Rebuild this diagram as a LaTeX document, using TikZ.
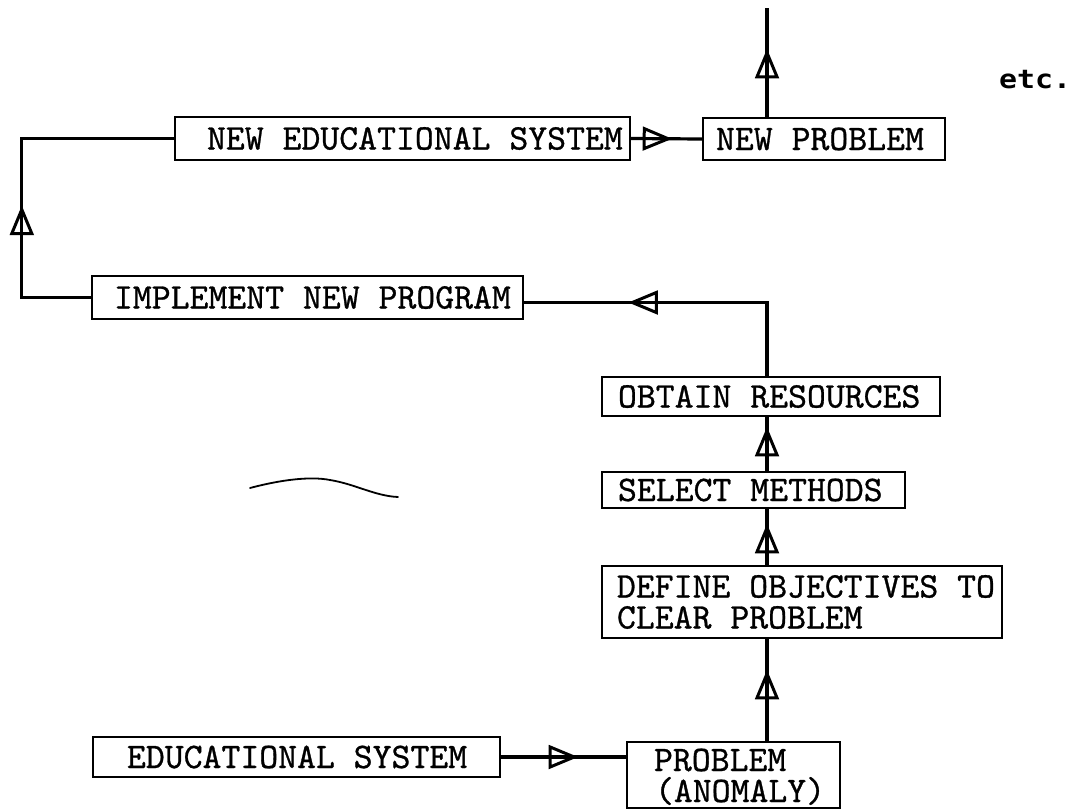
\documentclass[tikz,border=0pt]{standalone}
\usepackage{fontspec}
\newfontfamily\etcfont[FakeStretch=1.15]{DejaVu Sans Mono}
\newfontfamily\typeface[FakeBold=0.8]{lmmono10-regular.otf}
\newcommand\boxfont{\typeface\fontsize{36}{31}\selectfont}
% one full typewriter cell of blank space
\newcommand\ws{\hspace*{0.525em}}
\usetikzlibrary{decorations.markings}

\begin{document}
\begin{tikzpicture}[x=1pt,y=-1pt,
  box/.style={draw, line width=2.4pt, inner xsep=0pt, inner ysep=0pt,
    font=\boxfont, align=left},
  link/.style={line width=3.2pt},
  midtri/.style={postaction={decorate}, decoration={markings,
    mark=at position #1 with {\draw[line width=3pt, line join=miter]
      (-12pt,-10pt) -- (12pt,0pt) -- (-12pt,10pt) -- cycle;}}}
]
\useasboundingbox (0,0) rectangle (1075,811);

% boxes of the cycle
\node[box, text width=455pt, minimum height=43pt] (nes) at (402.5,138.5)
  {\hspace*{32pt}NEW\ws EDUCATIONAL\ws SYSTEM};
\node[box, text width=242pt, minimum height=42pt] (np) at (824,139)
  {\hspace*{13pt}NEW\ws PROBLEM};
\node[box, text width=431pt, minimum height=43pt] (impl) at (307.5,297.5)
  {\hspace*{22pt}IMPLEMENT\ws NEW\ws PROGRAM};
\node[box, text width=338pt, minimum height=39pt] (ob) at (771,396.5)
  {\hspace*{16pt}OBTAIN\ws RESOURCES};
\node[box, text width=303pt, minimum height=36pt] (sm) at (753.5,490)
  {\hspace*{16pt}SELECT\ws METHODS};
\node[box, text width=400pt, minimum height=72pt] (def) at (802,602)
  {\hspace*{15pt}DEFINE\ws OBJECTIVES\ws TO\\\hspace*{15pt}CLEAR\ws PROBLEM};
\node[box, text width=213pt, minimum height=66pt, text height=29pt, text depth=37pt]
  (pr) at (733.5,775)
  {\hspace*{27pt}PROBLEM\\\hspace*{28pt}(ANOMALY)};
\node[box, text width=407pt, minimum height=40pt] (es) at (296.5,757)
  {\hspace*{34pt}EDUCATIONAL\ws SYSTEM};

\node[font=\etcfont\bfseries\fontsize{26}{26}\selectfont, anchor=base west, inner sep=0pt]
  (etc) at (999,88) {etc.};

% connectors
\coordinate (top) at (767,8);
\draw[link, midtri=52pt] (np.north -| top) -- (top);
\draw[link, midtri=25pt] (nes.east) -- (np.west);
\draw[link, midtri=145pt] (impl.west) -- ++(-69,0) |- (nes.west);
\draw[link, midtri=196pt] (ob.north -| top) |- ([yshift=-5pt]impl.east);
\draw[link, midtri=28pt] (sm.north -| top) -- (ob.south -| top);
\draw[link, midtri=25pt] (def.north -| top) -- (sm.south -| top);
\draw[link, midtri=55pt] (pr.north -| top) -- (def.south -| top);
\draw[link, midtri=61pt] (es.east) -- (es.east -| pr.west);

% stray pen stroke
\draw[line width=1.8pt, line cap=round] (250,488)
  .. controls (280,480) and (310,476) .. (330,480)
  .. controls (355,484) and (375,496) .. (398,497);
\end{tikzpicture}
\end{document}
